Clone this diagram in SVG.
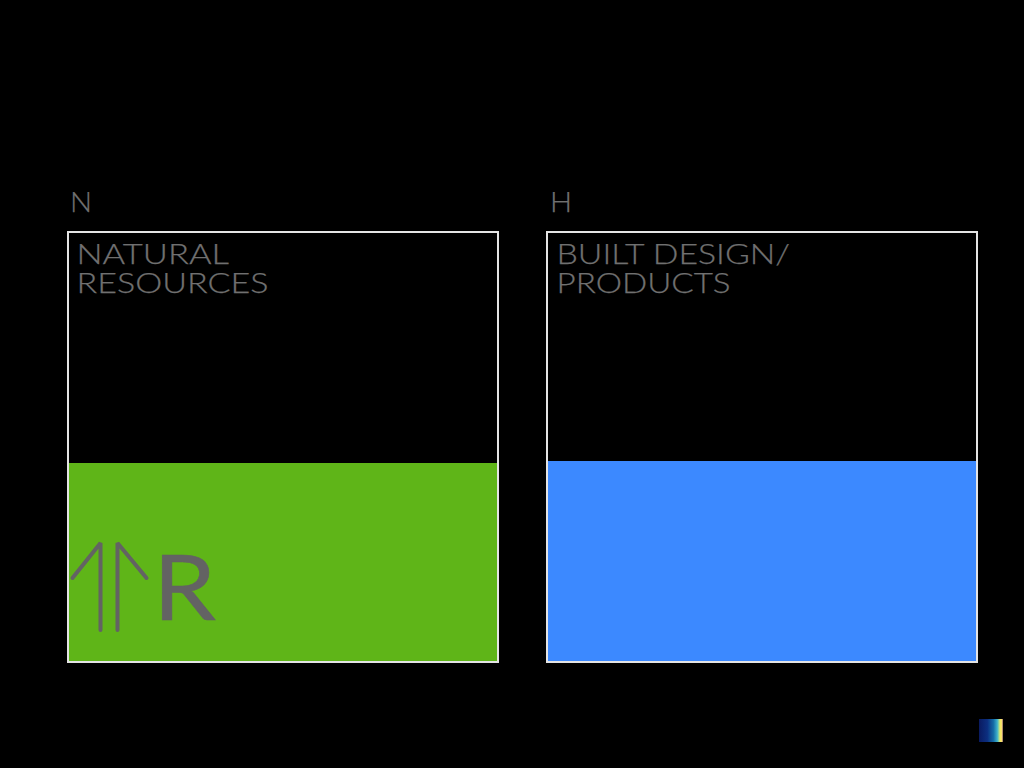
<svg xmlns="http://www.w3.org/2000/svg" width="1024" height="768" viewBox="0 0 1024 768">
<defs>
<style>
.t{font-family:"Lato","Liberation Sans",sans-serif;font-weight:300;font-size:28px;fill:#707070;stroke:#707070;stroke-width:.25}
.frame{fill:none;stroke:#e4e4e4;stroke-width:2}
.mark{fill:none;stroke:#636363;stroke-width:4;stroke-linecap:round;stroke-linejoin:bevel}
</style>
<linearGradient id="swatch" x1="0" x2="1" y1="0" y2="0">
<stop offset="0" stop-color="#0a1a60"/>
<stop offset=".35" stop-color="#0c2f80"/>
<stop offset=".6" stop-color="#136aa6"/>
<stop offset=".76" stop-color="#3cb0cc"/>
<stop offset=".84" stop-color="#a8dc90"/>
<stop offset=".88" stop-color="#f5e860"/>
<stop offset=".95" stop-color="#f8e070"/>
<stop offset=".97" stop-color="#b08a70"/>
<stop offset="1" stop-color="#b08a70"/>
</linearGradient>
</defs>
<rect width="1024" height="768" fill="#000"/>
<g id="natural">
<text class="t" x="70" y="212" textLength="22" lengthAdjust="spacingAndGlyphs">N</text>
<rect x="68" y="463" width="430" height="199" fill="#5fb518"/>
<rect class="frame" x="68" y="232" width="430" height="430"/>
<text class="t"><tspan x="76.500" y="263.500" textLength="152.500" lengthAdjust="spacingAndGlyphs">NATURAL</tspan><tspan x="76.500" y="292.500" textLength="192" lengthAdjust="spacingAndGlyphs">RESOURCES</tspan></text>
<path class="mark" d="M100.500 630V543L72.500 578M117.500 630V543L146.500 578"/>
<text x="153" y="619.500" font-family="Lato,'Liberation Sans',sans-serif" font-size="91" fill="#636363" stroke="#636363" stroke-width=".5" textLength="63" lengthAdjust="spacingAndGlyphs">R</text>
</g>
<g id="built">
<text class="t" x="550" y="212" textLength="22" lengthAdjust="spacingAndGlyphs">H</text>
<rect x="547" y="461" width="430" height="201" fill="#3c89ff"/>
<rect class="frame" x="547" y="232" width="430" height="430"/>
<text class="t"><tspan x="556.500" y="263.500" textLength="233.500" lengthAdjust="spacingAndGlyphs">BUILT DESIGN/</tspan><tspan x="556.500" y="292.500" textLength="174" lengthAdjust="spacingAndGlyphs">PRODUCTS</tspan></text>
</g>
<g id="connectors"/>
<rect id="swatch-box" x="979" y="719" width="24" height="23" fill="url(#swatch)"/>
</svg>
